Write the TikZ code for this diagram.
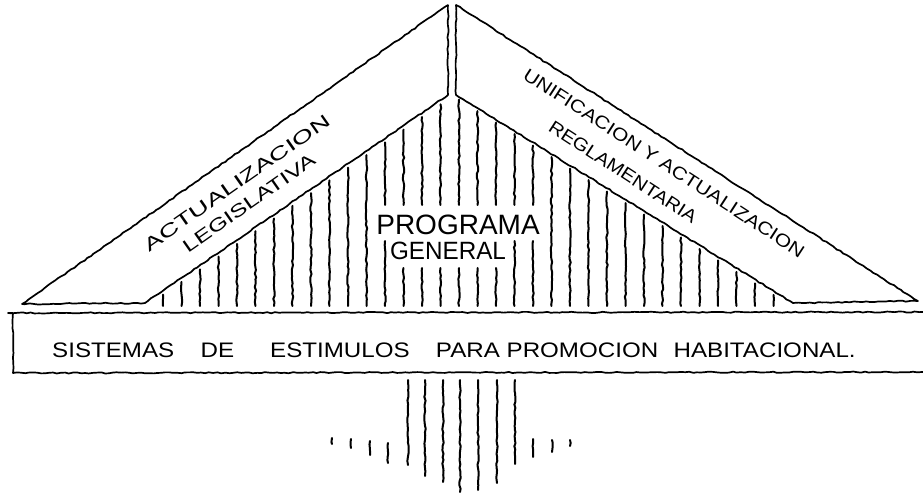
\documentclass[tikz,border=0pt]{standalone}
\usepackage{fontspec}
\usepackage{graphicx}
\setmainfont{Liberation Sans}
\usetikzlibrary{decorations.pathmorphing}
\begin{document}
\begin{tikzpicture}[x=1pt,y=-1pt,
  ink/.style={line width=1.7pt, line cap=round, line join=round, decorate,
    decoration={random steps, segment length=4pt, amplitude=0.6pt}},
  hatch/.style={line width=2pt, line cap=round, decorate,
    decoration={random steps, segment length=3.5pt, amplitude=0.7pt}},
  lbl/.style={inner sep=0pt, font=\fontsize{18}{18}\selectfont},
]
\pgfmathsetseed{11}
\useasboundingbox (0,0) rectangle (923,494);

% key points
\coordinate (oL) at (22,304);
\coordinate (iL) at (145,303);
\coordinate (apL) at (448,5);
\coordinate (apLi) at (448,95);
\coordinate (apR) at (456,5);
\coordinate (apRi) at (456,95);
\coordinate (iR) at (793,303);
\coordinate (oR) at (918,301);

% hatching of the inner triangle (drawn first)
\foreach \i in {0,...,11} {
  \pgfmathsetmacro\hx{163+18.5*\i}
  \pgfmathsetmacro\ht{303-0.686*(\hx-145)+4}
  \draw[hatch] (\hx,\ht) -- (\hx,306);
}
\foreach \i in {21,...,33} {
  \pgfmathsetmacro\hx{163+18.5*\i}
  \pgfmathsetmacro\ht{95+0.621*(\hx-458)+4}
  \draw[hatch] (\hx,\ht) -- (\hx,306);
}
\foreach \i in {12,19,20} {
  \pgfmathsetmacro\hx{163+18.5*\i}
  \pgfmathsetmacro\ht{\hx<453 ? 303-0.686*(\hx-145)+4 : 95+0.621*(\hx-458)+4}
  \draw[hatch] (\hx,\ht) -- (\hx,205);
  \draw[hatch] (\hx,241) -- (\hx,306);
}
\foreach \i in {13,...,18} {
  \pgfmathsetmacro\hx{163+18.5*\i}
  \pgfmathsetmacro\ht{\hx<453 ? 303-0.686*(\hx-145)+4 : 95+0.621*(\hx-458)+4}
  \draw[hatch] (\hx,\ht) -- (\hx,205);
  \draw[hatch] (\hx,268) -- (\hx,306);
}

% the two sloping bands
\draw[ink] (iL) -- (oL) -- (apL) -- (apLi) -- cycle;
\draw[ink] (apR) -- (oR) -- (iR) -- (apRi) -- cycle;

% the base bar
\draw[ink] (923,312) -- (8,313) -- (13,313) -- (13,373) -- (923,372);

% labels
\node[lbl, rotate=35] (actual) at (237,183) {\scalebox{1.55}[1]{ACTUALIZACION}};
\node[lbl, rotate=35] (legis) at (249,203) {\scalebox{1.4}[1]{LEGISLATIVA}};
\node[lbl, rotate=-33] (unif) at (664,163) {\scalebox{1.17}[1]{UNIFICACION Y ACTUALIZACION}};
\node[lbl, rotate=-33] (regl) at (623,172) {\scalebox{1.13}[1]{REGLAMENTARIA}};
\node[inner sep=0pt, font=\fontsize{28}{28}\selectfont] (prog) at (458,225) {PROGRAMA};
\node[inner sep=0pt, font=\fontsize{25}{25}\selectfont] (gen) at (448,251) {\scalebox{0.97}[1]{GENERAL}};
\node[anchor=west, inner sep=0pt, font=\fontsize{21}{21}\selectfont] (sis) at (52,350)
  {\scalebox{1.15}[1]{SISTEMAS\hspace{17pt} DE\hspace{25.5pt} ESTIMULOS\hspace{17pt} PARA PROMOCION\hspace{7.5pt} HABITACIONAL.}};

% downward arrow made of strokes
\foreach \x/\yb in {408/465, 425/476, 443/482, 460/492, 478/490, 497/483, 515/464}
  \draw[hatch] (\x,380) -- (\x,\yb);
\foreach \x/\ya/\yb in {332/438/444, 351/439/448, 370/441/455, 388/443/463, 533/439/457, 552/440/452, 570/440/446}
  \draw[hatch] (\x,\ya) -- (\x,\yb);
\end{tikzpicture}
\end{document}
